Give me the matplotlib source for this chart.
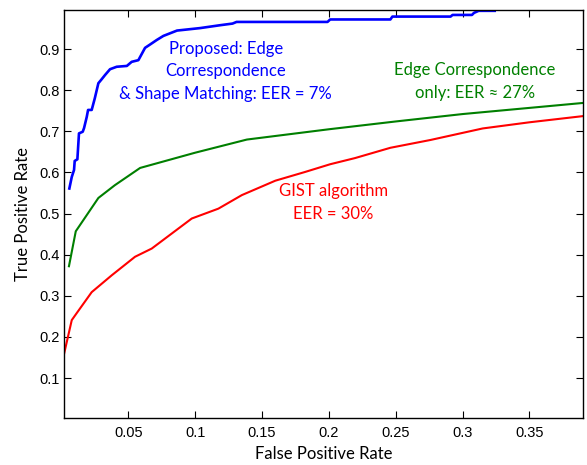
import matplotlib
matplotlib.use("Agg")
import matplotlib.pyplot as plt

# Proposed: Edge Correspondence & Shape Matching
blue_fpr = [0.0060, 0.0078, 0.0095, 0.0100, 0.0120, 0.0132, 0.0160, 0.0170, 0.0190, 0.0200,
            0.0227, 0.0250, 0.0277, 0.0300, 0.0327, 0.0364, 0.0414, 0.0490, 0.0526, 0.0576,
            0.0626, 0.0663, 0.0713, 0.0763, 0.0810, 0.0865, 0.1037, 0.1187, 0.1280, 0.1310,
            0.1990, 0.2010, 0.2460, 0.2475, 0.2910, 0.2925, 0.3070, 0.3085, 0.3120, 0.3240]
blue_tpr = [0.561, 0.589, 0.606, 0.628, 0.632, 0.695, 0.699, 0.708, 0.735, 0.752,
            0.752, 0.780, 0.817, 0.826, 0.837, 0.851, 0.857, 0.859, 0.869, 0.873,
            0.903, 0.911, 0.922, 0.932, 0.938, 0.945, 0.951, 0.958, 0.962, 0.966,
            0.966, 0.972, 0.972, 0.979, 0.979, 0.983, 0.983, 0.988, 0.993, 0.993]

# Edge Correspondence only
green_fpr = [0.0057, 0.0108, 0.0277, 0.0400, 0.0589, 0.1000, 0.1387, 0.2000, 0.2500, 0.3000, 0.3900]
green_tpr = [0.372, 0.457, 0.538, 0.569, 0.611, 0.648, 0.680, 0.705, 0.724, 0.742, 0.769]

# GIST algorithm
red_fpr = [0.0015, 0.0078, 0.0115, 0.0227, 0.0377, 0.0551, 0.0676, 0.0975, 0.1174, 0.1350,
           0.1600, 0.1820, 0.2010, 0.2196, 0.2460, 0.2760, 0.3150, 0.3500, 0.3900]
red_tpr = [0.151, 0.241, 0.258, 0.309, 0.350, 0.395, 0.415, 0.488, 0.512, 0.545,
           0.580, 0.601, 0.620, 0.635, 0.660, 0.679, 0.707, 0.722, 0.737]

xticks = [0.05, 0.1, 0.15, 0.2, 0.25, 0.3, 0.35]
xticklabels = ["0.05", "0.1", "0.15", "0.2", "0.25", "0.3", "0.35"]
yticks = [0.1, 0.2, 0.3, 0.4, 0.5, 0.6, 0.7, 0.8, 0.9]
yticklabels = ["0.1", "0.2", "0.3", "0.4", "0.5", "0.6", "0.7", "0.8", "0.9"]

fig = plt.figure(figsize=(5.87, 4.65), dpi=100)
ax = fig.add_axes([64 / 587, 47 / 465, 519 / 587, 408 / 465])

ax.plot(red_fpr, red_tpr, color="#ff0000", lw=1.5)
ax.plot(green_fpr, green_tpr, color="#007f00", lw=1.5)
ax.plot(blue_fpr, blue_tpr, color="#0000ff", lw=1.9)

ax.set_xlim(0.002, 0.390)
ax.set_ylim(0.003, 0.995)
ax.set_xticks(xticks)
ax.set_xticklabels(xticklabels, family="Liberation Sans", fontsize=10.5)
ax.set_yticks(yticks)
ax.set_yticklabels(yticklabels, family="Liberation Sans", fontsize=10.5)
ax.tick_params(direction="in", top=True, right=True, length=5, width=0.8)
ax.tick_params(axis="x", pad=6)
ax.tick_params(axis="y", pad=3)
for s in ax.spines.values():
    s.set_linewidth(1.0)

ax.set_xlabel("False Positive Rate", family="Lato", fontsize=12, labelpad=4)
ax.set_ylabel("True Positive Rate", family="Lato", fontsize=12, labelpad=6)

ax.text(0.123, 0.846, "Proposed: Edge\nCorrespondence\n& Shape Matching: EER = 7%",
        color="#0000ff", family="Lato", fontsize=12, ha="center", va="center",
        linespacing=1.5)
ax.text(0.309, 0.821, "Edge Correspondence\nonly: EER \u2248 27%",
        color="#008000", family="Lato", fontsize=12, ha="center", va="center",
        linespacing=1.5)
ax.text(0.2036, 0.527, "GIST algorithm\nEER = 30%",
        color="#ff0000", family="Lato", fontsize=12, ha="center", va="center",
        linespacing=1.5)

fig.savefig("out.png", dpi=100)
